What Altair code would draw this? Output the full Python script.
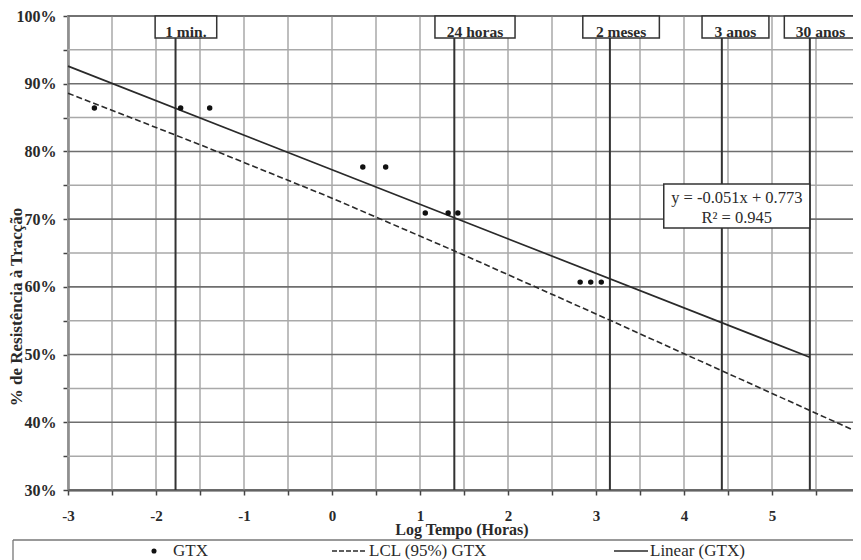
import altair as alt
import pandas as pd

# ---------------- data ----------------
# GTX measurements (log time in hours, fraction of tensile strength)
gtx_log_t = [-2.70, -1.72, -1.39, 0.35, 0.61, 1.06, 1.32, 1.43, 2.82, 2.94, 3.06]
gtx_pct = [0.864, 0.864, 0.864, 0.777, 0.777, 0.709, 0.709, 0.709, 0.607, 0.607, 0.607]

# Linear (GTX) trend line
lin_log_t = [-3.0, 5.43]
lin_pct = [0.926, 0.496]

# LCL (95%) GTX
lcl_log_t = [-3.0, -1.5, 0.0, 1.5, 3.0, 4.5, 6.0]
lcl_pct = [0.886, 0.810, 0.731, 0.647, 0.560, 0.472, 0.384]

# time markers
event_labels = ["1 min.", "24 horas", "2 meses", "3 anos", "30 anos"]
event_log_t = [-1.778, 1.39, 3.158, 4.43, 5.43]
box_left = [-2.01, 1.17, 2.85, 4.205, 5.14]
box_right = [-1.31, 2.08, 3.72, 4.965, 5.965]

# axis ticks / grid
x_ticks = [-3, -2.5, -2, -1.5, -1, -0.5, 0, 0.5, 1, 1.5, 2, 2.5, 3, 3.5, 4, 4.5, 5, 5.5, 6]
y_ticks = [0.30, 0.35, 0.40, 0.45, 0.50, 0.55, 0.60, 0.65, 0.70, 0.75,
           0.80, 0.85, 0.90, 0.95, 1.00]

eq_line1 = "y = -0.051x + 0.773"
eq_line2 = "R² = 0.945"

x_title = "Log Tempo (Horas)"
y_title = "% de Resistência à Tracção"
legend_labels = ["GTX", "LCL (95%) GTX", "Linear (GTX)"]

# ---------------- tables ----------------
pts = pd.DataFrame({"x": gtx_log_t, "y": gtx_pct})
lin = pd.DataFrame({"x": lin_log_t, "y": lin_pct})
lcl = pd.DataFrame({"x": lcl_log_t, "y": lcl_pct})
events = pd.DataFrame({"label": event_labels, "x": event_log_t,
                       "x0": box_left, "x1": box_right})
events["xc"] = (events["x0"] + events["x1"]) / 2
xgrid = pd.DataFrame({"x": x_ticks})
ygrid = pd.DataFrame({"y": y_ticks})
ygrid["kind"] = ["major" if round(v * 100) % 10 == 0 else "minor" for v in y_ticks]
one = pd.DataFrame({"a": [0]})

FONT = "Liberation Serif"
DARK = "#2a2a2a"

xscale = alt.Scale(domain=[-3, 6], nice=False, zero=False)
yscale = alt.Scale(domain=[0.3, 1.0], nice=False, zero=False)

xaxis = alt.Axis(
    values=x_ticks,
    labelExpr="datum.value % 1 == 0 ? '' + datum.value : ''",
    title=None, grid=False,
    domainColor="#444", domainWidth=2, tickColor="#444", tickWidth=1.5,
    tickSize=5, labelFont=FONT, labelFontWeight="bold", labelFontSize=15,
    labelColor=DARK, labelPadding=13, labelFlush=False, labelOverlap=False,
    labelBound=False,
)
yaxis = alt.Axis(
    values=y_ticks,
    labelExpr="round(datum.value*100) % 10 == 0 ? format(datum.value, '.0%') : ''",
    title=None, grid=False,
    domainColor="#444", domainWidth=2, tickColor="#444", tickWidth=1.5,
    tickSize=5, labelFont=FONT, labelFontWeight="bold", labelFontSize=16,
    labelColor=DARK, labelPadding=7, labelOverlap=False, labelBound=False,
)


def X(field="x"):
    return alt.X(field, type="quantitative", scale=xscale, axis=xaxis)


def Y(field="y"):
    return alt.Y(field, type="quantitative", scale=yscale, axis=yaxis)


BOX_BOTTOM = 0.9675

vgrid = alt.Chart(xgrid).mark_rule(color="#a9a9a9", strokeWidth=1.5).encode(
    x=X("x"), y=alt.Y(datum=1.0, scale=yscale, axis=yaxis), y2=alt.Y2(datum=0.30)
)
hgrid_minor = alt.Chart(ygrid).transform_filter("datum.kind == 'minor'").mark_rule(
    color="#a9a9a9", strokeWidth=1.5).encode(
    y=Y("y"), x=alt.X(datum=-3, scale=xscale, axis=xaxis), x2=alt.X2(datum=6),
)
hgrid_major = alt.Chart(ygrid).transform_filter("datum.kind == 'major'").mark_rule(
    color="#6e6e6e", strokeWidth=1.6).encode(
    y=Y("y"), x=alt.X(datum=-3, scale=xscale, axis=xaxis), x2=alt.X2(datum=6),
)

event_rules = alt.Chart(events).mark_rule(color="#333", strokeWidth=2).encode(
    x=X("x"), y=alt.Y(datum=BOX_BOTTOM, scale=yscale, axis=yaxis), y2=alt.Y2(datum=0.30)
)

lcl_line = alt.Chart(lcl).mark_line(color=DARK, strokeWidth=1.6, strokeDash=[6, 3]).encode(
    x=X(), y=Y()
)
lin_line = alt.Chart(lin).mark_line(color=DARK, strokeWidth=1.7).encode(x=X(), y=Y())
points = alt.Chart(pts).mark_circle(color="#111", size=30, opacity=1).encode(x=X(), y=Y())

event_boxes = alt.Chart(events).mark_rect(fill="white", stroke="#333", strokeWidth=1.5).encode(
    x=X("x0"), x2="x1",
    y=alt.Y(datum=1.0, scale=yscale, axis=yaxis), y2=alt.Y2(datum=BOX_BOTTOM)
)
event_text = alt.Chart(events).mark_text(
    font=FONT, fontWeight="bold", fontSize=15.5, color=DARK, baseline="alphabetic", dy=2
).encode(x=X("xc"), y=alt.Y(datum=0.9715, scale=yscale, axis=yaxis), text="label")

eq_box = alt.Chart(one).mark_rect(fill="white", stroke="#333", strokeWidth=1.5).encode(
    x=alt.X(datum=3.77, scale=xscale, axis=xaxis), x2=alt.X2(datum=5.43),
    y=alt.Y(datum=0.752, scale=yscale, axis=yaxis), y2=alt.Y2(datum=0.687)
)
eq_t1 = alt.Chart(one).mark_text(font=FONT, fontSize=16.5, color=DARK, baseline="middle").encode(
    x=alt.X(datum=4.60, scale=xscale, axis=xaxis),
    y=alt.Y(datum=0.731, scale=yscale, axis=yaxis), text=alt.value(eq_line1)
)
eq_t2 = alt.Chart(one).mark_text(font=FONT, fontSize=16.5, color=DARK, baseline="middle").encode(
    x=alt.X(datum=4.60, scale=xscale, axis=xaxis),
    y=alt.Y(datum=0.702, scale=yscale, axis=yaxis), text=alt.value(eq_line2)
)

# titles (placed in pixel space around the plot)
xt = alt.Chart(one).mark_text(font=FONT, fontWeight="bold", fontSize=16, color=DARK,
                              baseline="middle", align="center").encode(
    x=alt.value(394), y=alt.value(514), text=alt.value(x_title))
yt = alt.Chart(one).mark_text(font=FONT, fontWeight="bold", fontSize=17, color=DARK,
                              baseline="middle", align="center", angle=270).encode(
    x=alt.value(-51), y=alt.value(291), text=alt.value(y_title))

# legend
LY = 535
leg_top = alt.Chart(one).mark_rule(color="#777", strokeWidth=1.3).encode(
    x=alt.value(-55), x2=alt.value(792), y=alt.value(524))
leg_left = alt.Chart(one).mark_rule(color="#777", strokeWidth=1.3).encode(
    x=alt.value(-55), y=alt.value(524), y2=alt.value(560))
leg_dot = alt.Chart(one).mark_circle(color="#111", size=26, opacity=1).encode(
    x=alt.value(86), y=alt.value(LY))
leg_dash = alt.Chart(one).mark_rule(color=DARK, strokeWidth=1.6, strokeDash=[5, 2]).encode(
    x=alt.value(264), x2=alt.value(299), y=alt.value(LY))
leg_solid = alt.Chart(one).mark_rule(color=DARK, strokeWidth=1.7).encode(
    x=alt.value(546), x2=alt.value(580), y=alt.value(LY))


def leg_text(xpos, label):
    return alt.Chart(one).mark_text(font=FONT, fontSize=17, color=DARK, align="left",
                                    baseline="middle").encode(
        x=alt.value(xpos), y=alt.value(LY), text=alt.value(label))


chart = alt.layer(
    vgrid, hgrid_minor, hgrid_major, event_rules, lcl_line, lin_line, points,
    event_boxes, event_text, eq_box, eq_t1, eq_t2, xt, yt,
    leg_top, leg_left, leg_dot, leg_dash, leg_solid,
    leg_text(105, legend_labels[0]), leg_text(301, legend_labels[1]),
    leg_text(582, legend_labels[2]),
).properties(
    width=792, height=474,
    autosize=alt.AutoSizeParams(type="none"),
    padding={"left": 60, "top": 8, "right": -7, "bottom": 70},
    background="white",
).configure_view(stroke="#555", strokeWidth=1.5)

chart.save("out.html", embed_options={"renderer": "svg", "actions": False})
